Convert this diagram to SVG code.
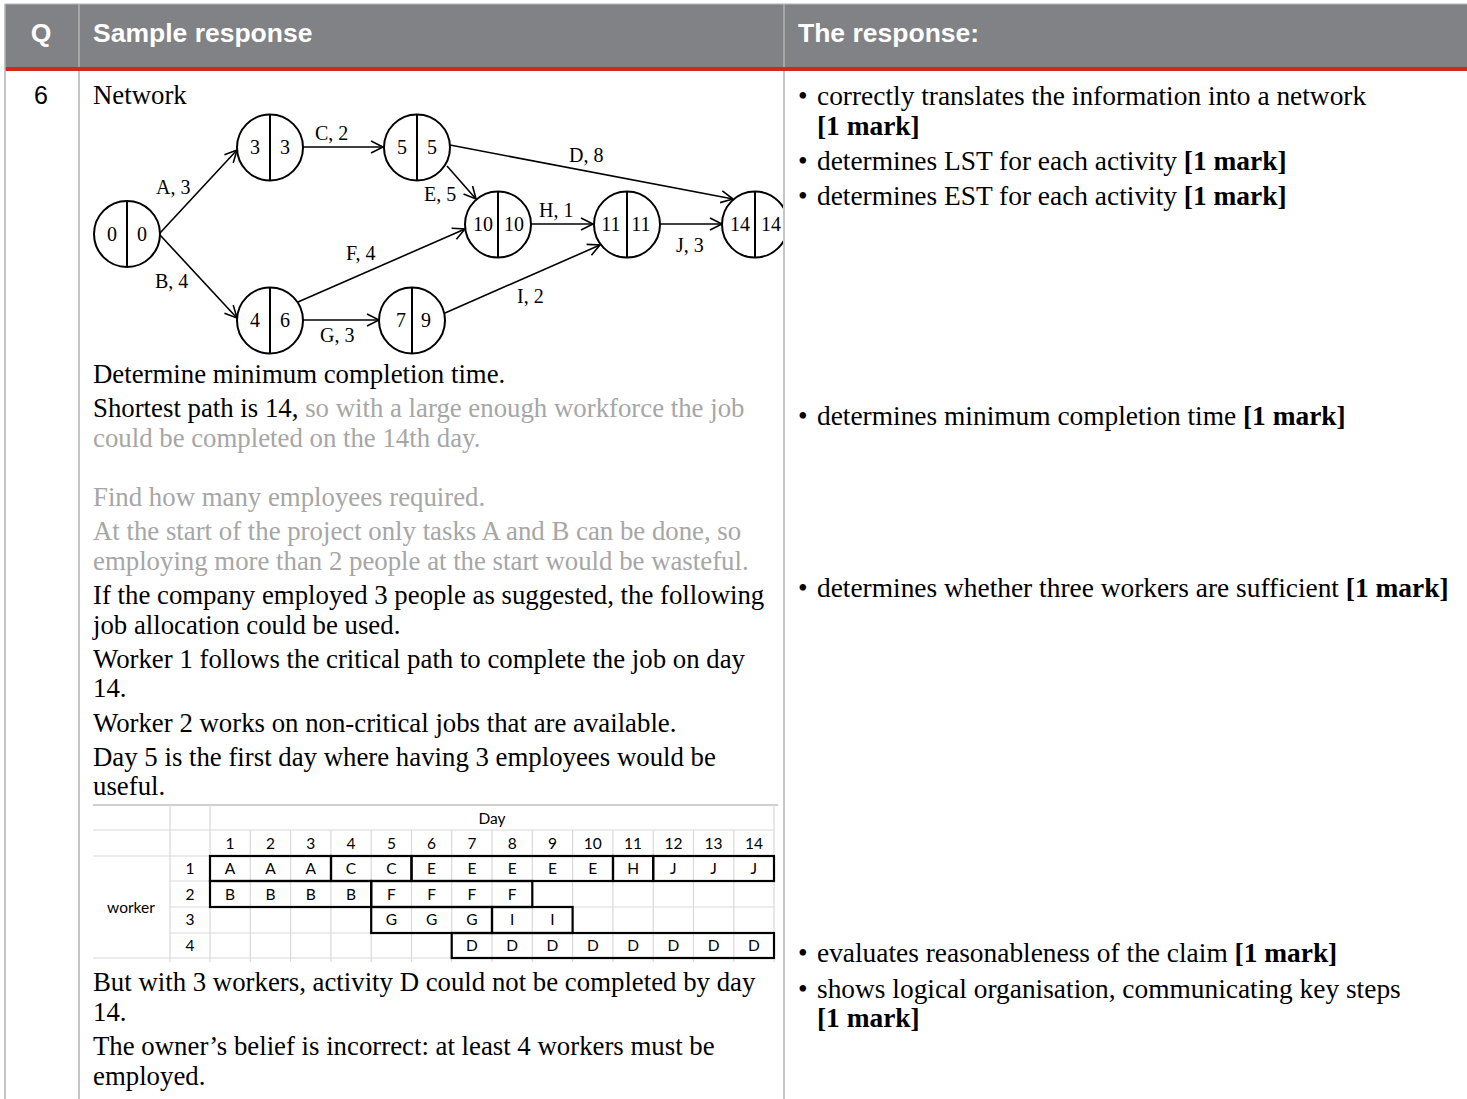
<svg xmlns="http://www.w3.org/2000/svg" width="1467" height="1099" viewBox="0 0 1467 1099">
<defs>
<marker id="arr" markerUnits="userSpaceOnUse" markerWidth="16" markerHeight="16" refX="13" refY="7" orient="auto">
<path d="M1,1 L13,7 L1,13" fill="none" stroke="#000" stroke-width="1.6"/>
</marker>
<clipPath id="netclip"><rect x="80" y="75" width="703" height="290"/></clipPath>
<style>
.hd{font-family:"Liberation Sans",Arial,sans-serif;font-weight:bold;font-size:26.5px;fill:#fff}
.body{font-family:"Liberation Serif","Times New Roman",serif;font-size:26.8px;fill:#000}
.rt{font-family:"Liberation Serif","Times New Roman",serif;font-size:27.4px;fill:#000}
.grey{fill:#a6a6a6}
.b{font-weight:bold}
.nl{font-family:"Liberation Serif","Times New Roman",serif;font-size:20px;fill:#000}
.nn{font-family:"Liberation Serif","Times New Roman",serif;font-size:20px;fill:#000;text-anchor:middle}
.node circle{fill:#fff;stroke:#000;stroke-width:2}
.node line{stroke:#000;stroke-width:2}
.edge{stroke:#000;stroke-width:1.6;fill:none;marker-end:url(#arr)}
.tb{font-family:Lato,"Liberation Sans",sans-serif;font-size:15.5px;fill:#000;text-anchor:middle}
.gl{stroke:#d9d9d9;stroke-width:1.2}
.bx{fill:none;stroke:#000;stroke-width:2.2}
.col{stroke:#b3b3b3;stroke-width:1.5}
</style>
</defs>
<rect x="0" y="0" width="1467" height="1099" fill="#fff"/>
<g id="header">
<rect x="5" y="4" width="1462" height="64" fill="#808285"/>
<line x1="5" y1="4" x2="1467" y2="4" stroke="#b3b3b3" stroke-width="1"/>
<rect x="5" y="67" width="1462" height="4" fill="#d2281e"/>
<text class="hd" x="41" y="42" text-anchor="middle">Q</text>
<text class="hd" x="93" y="42">Sample response</text>
<text class="hd" x="798" y="42">The response:</text>
</g>
<g id="grid">
<line class="col" x1="5" y1="4" x2="5" y2="1099"/>
<line class="col" x1="79" y1="4" x2="79" y2="67"/>
<line class="col" x1="79" y1="71" x2="79" y2="1099"/>
<line class="col" x1="784" y1="4" x2="784" y2="67"/>
<line class="col" x1="784" y1="71" x2="784" y2="1099"/>
</g>
<text x="41" y="104" text-anchor="middle" font-family="Liberation Sans, Arial, sans-serif" font-size="25px">6</text>

<g id="left-text">
<text class="body" x="93" y="104">Network</text>
<text class="body" x="93" y="383">Determine minimum completion time.</text>
<text class="body" x="93" y="417">Shortest path is 14, <tspan class="grey">so with a large enough workforce the job</tspan></text>
<text class="body grey" x="93" y="447">could be completed on the 14th day.</text>
<text class="body grey" x="93" y="506">Find how many employees required.</text>
<text class="body grey" x="93" y="540">At the start of the project only tasks A and B can be done, so</text>
<text class="body grey" x="93" y="570">employing more than 2 people at the start would be wasteful.</text>
<text class="body" x="93" y="604">If the company employed 3 people as suggested, the following</text>
<text class="body" x="93" y="634">job allocation could be used.</text>
<text class="body" x="93" y="668">Worker 1 follows the critical path to complete the job on day</text>
<text class="body" x="93" y="697">14.</text>
<text class="body" x="93" y="732">Worker 2 works on non-critical jobs that are available.</text>
<text class="body" x="93" y="766">Day 5 is the first day where having 3 employees would be</text>
<text class="body" x="93" y="795">useful.</text>
<text class="body" x="93" y="991">But with 3 workers, activity D could not be completed by day</text>
<text class="body" x="93" y="1021">14.</text>
<text class="body" x="93" y="1055">The owner’s belief is incorrect: at least 4 workers must be</text>
<text class="body" x="93" y="1085">employed.</text>
</g>

<g id="right-text">
<text class="rt" x="798" y="105">• <tspan x="817">correctly translates the information into a network</tspan></text>
<text class="rt b" x="817" y="135">[1 mark]</text>
<text class="rt" x="798" y="170">• <tspan x="817">determines LST for each activity </tspan><tspan class="b">[1 mark]</tspan></text>
<text class="rt" x="798" y="205">• <tspan x="817">determines EST for each activity </tspan><tspan class="b">[1 mark]</tspan></text>
<text class="rt" x="798" y="425">• <tspan x="817">determines minimum completion time </tspan><tspan class="b">[1 mark]</tspan></text>
<text class="rt" x="798" y="597">• <tspan x="817">determines whether three workers are sufficient </tspan><tspan class="b">[1 mark]</tspan></text>
<text class="rt" x="798" y="962">• <tspan x="817">evaluates reasonableness of the claim </tspan><tspan class="b">[1 mark]</tspan></text>
<text class="rt" x="798" y="998">• <tspan x="817">shows logical organisation, communicating key steps</tspan></text>
<text class="rt b" x="817" y="1027">[1 mark]</text>
</g>

<g id="network" clip-path="url(#netclip)">
<g id="connectors">
<line class="edge" x1="160" y1="233" x2="237" y2="150"/>
<line class="edge" x1="160" y1="235" x2="237" y2="318"/>
<line class="edge" x1="303" y1="147" x2="383" y2="147"/>
<line class="edge" x1="450" y1="145" x2="733" y2="199"/>
<line class="edge" x1="447" y1="166" x2="476" y2="199"/>
<line class="edge" x1="298" y1="302" x2="465" y2="229"/>
<line class="edge" x1="303" y1="320" x2="379" y2="320"/>
<line class="edge" x1="531" y1="224" x2="593" y2="224"/>
<line class="edge" x1="445" y1="313" x2="600" y2="245"/>
<line class="edge" x1="660" y1="224" x2="722" y2="224"/>
<text class="nl" x="156" y="194">A, 3</text>
<text class="nl" x="155" y="288">B, 4</text>
<text class="nl" x="315" y="140">C, 2</text>
<text class="nl" x="569" y="162">D, 8</text>
<text class="nl" x="424" y="201">E, 5</text>
<text class="nl" x="346" y="260">F, 4</text>
<text class="nl" x="320" y="342">G, 3</text>
<text class="nl" x="539" y="217">H, 1</text>
<text class="nl" x="517" y="303">I, 2</text>
<text class="nl" x="676" y="252">J, 3</text>
</g>
<g id="n0" class="node"><circle cx="127" cy="234" r="33"/><line x1="127" y1="201" x2="127" y2="267"/><text class="nn" x="112" y="241">0</text><text class="nn" x="142" y="241">0</text></g>
<g id="n1" class="node"><circle cx="270" cy="147.5" r="33"/><line x1="270" y1="114.5" x2="270" y2="180.5"/><text class="nn" x="255" y="154">3</text><text class="nn" x="285" y="154">3</text></g>
<g id="n2" class="node"><circle cx="417" cy="147.5" r="33"/><line x1="417" y1="114.5" x2="417" y2="180.5"/><text class="nn" x="402" y="154">5</text><text class="nn" x="432" y="154">5</text></g>
<g id="n3" class="node"><circle cx="270" cy="320.5" r="33"/><line x1="270" y1="287.5" x2="270" y2="353.5"/><text class="nn" x="255" y="327">4</text><text class="nn" x="285" y="327">6</text></g>
<g id="n4" class="node"><circle cx="412" cy="320.5" r="33"/><line x1="412" y1="287.5" x2="412" y2="353.5"/><text class="nn" x="401" y="327">7</text><text class="nn" x="426" y="327">9</text></g>
<g id="n5" class="node"><circle cx="498" cy="224.5" r="33"/><line x1="498" y1="191.5" x2="498" y2="257.5"/><text class="nn" x="483" y="231">10</text><text class="nn" x="514" y="231">10</text></g>
<g id="n6" class="node"><circle cx="627" cy="224.5" r="33"/><line x1="627" y1="191.5" x2="627" y2="257.5"/><text class="nn" x="611" y="231">11</text><text class="nn" x="641" y="231">11</text></g>
<g id="n7" class="node"><circle cx="755" cy="224.5" r="33"/><line x1="755" y1="191.5" x2="755" y2="257.5"/><text class="nn" x="740" y="231">14</text><text class="nn" x="771" y="231">14</text></g>
</g>

<g id="table">
<line x1="93" y1="805" x2="778" y2="805" stroke="#bfbfbf" stroke-width="1.5"/>
<g class="gl">
<line x1="93" y1="830" x2="774" y2="830"/>
<line x1="93" y1="856" x2="774" y2="856"/>
<line x1="170" y1="881" x2="774" y2="881"/>
<line x1="170" y1="907" x2="774" y2="907"/>
<line x1="170" y1="933" x2="774" y2="933"/>
<line x1="93" y1="958" x2="774" y2="958"/>
<line x1="170" y1="805" x2="170" y2="962"/>
<line x1="210" y1="805" x2="210" y2="962"/>
<line x1="250.3" y1="830" x2="250.3" y2="962"/>
<line x1="290.6" y1="830" x2="290.6" y2="962"/>
<line x1="330.9" y1="830" x2="330.9" y2="962"/>
<line x1="371.2" y1="830" x2="371.2" y2="962"/>
<line x1="411.5" y1="830" x2="411.5" y2="962"/>
<line x1="451.7" y1="830" x2="451.7" y2="962"/>
<line x1="492" y1="830" x2="492" y2="962"/>
<line x1="532.3" y1="830" x2="532.3" y2="962"/>
<line x1="572.6" y1="830" x2="572.6" y2="962"/>
<line x1="612.9" y1="830" x2="612.9" y2="962"/>
<line x1="653.2" y1="830" x2="653.2" y2="962"/>
<line x1="693.5" y1="830" x2="693.5" y2="962"/>
<line x1="733.8" y1="830" x2="733.8" y2="962"/>
<line x1="774" y1="805" x2="774" y2="962"/>
</g>
<text class="tb" x="492" y="824">Day</text>
<text class="tb" x="230.1" y="849">1</text><text class="tb" x="270.4" y="849">2</text><text class="tb" x="310.7" y="849">3</text><text class="tb" x="351" y="849">4</text><text class="tb" x="391.4" y="849">5</text><text class="tb" x="431.6" y="849">6</text><text class="tb" x="471.9" y="849">7</text><text class="tb" x="512.2" y="849">8</text><text class="tb" x="552.5" y="849">9</text><text class="tb" x="592.8" y="849">10</text><text class="tb" x="633.1" y="849">11</text><text class="tb" x="673.4" y="849">12</text><text class="tb" x="713.6" y="849">13</text><text class="tb" x="753.9" y="849">14</text>
<text class="tb" x="131" y="913">worker</text>
<text class="tb" x="190" y="874">1</text>
<text class="tb" x="190" y="900">2</text>
<text class="tb" x="190" y="925">3</text>
<text class="tb" x="190" y="951">4</text>
<text class="tb" x="230.1" y="874">A</text><text class="tb" x="270.4" y="874">A</text><text class="tb" x="310.7" y="874">A</text><text class="tb" x="351" y="874">C</text><text class="tb" x="391.4" y="874">C</text><text class="tb" x="431.6" y="874">E</text><text class="tb" x="471.9" y="874">E</text><text class="tb" x="512.2" y="874">E</text><text class="tb" x="552.5" y="874">E</text><text class="tb" x="592.8" y="874">E</text><text class="tb" x="633.1" y="874">H</text><text class="tb" x="673.4" y="874">J</text><text class="tb" x="713.6" y="874">J</text><text class="tb" x="753.9" y="874">J</text>
<text class="tb" x="230.1" y="900">B</text><text class="tb" x="270.4" y="900">B</text><text class="tb" x="310.7" y="900">B</text><text class="tb" x="351" y="900">B</text><text class="tb" x="391.4" y="900">F</text><text class="tb" x="431.6" y="900">F</text><text class="tb" x="471.9" y="900">F</text><text class="tb" x="512.2" y="900">F</text>
<text class="tb" x="391.4" y="925">G</text><text class="tb" x="431.6" y="925">G</text><text class="tb" x="471.9" y="925">G</text><text class="tb" x="512.2" y="925">I</text><text class="tb" x="552.5" y="925">I</text>
<text class="tb" x="471.9" y="951">D</text><text class="tb" x="512.2" y="951">D</text><text class="tb" x="552.5" y="951">D</text><text class="tb" x="592.8" y="951">D</text><text class="tb" x="633.1" y="951">D</text><text class="tb" x="673.4" y="951">D</text><text class="tb" x="713.6" y="951">D</text><text class="tb" x="753.9" y="951">D</text>
<rect class="bx" x="210" y="856" width="121" height="25"/>
<rect class="bx" x="331" y="856" width="80.5" height="25"/>
<rect class="bx" x="411.5" y="856" width="201.5" height="25"/>
<rect class="bx" x="613" y="856" width="40.2" height="25"/>
<rect class="bx" x="653.2" y="856" width="120.8" height="25"/>
<rect class="bx" x="210" y="881" width="161.2" height="26"/>
<rect class="bx" x="371.2" y="881" width="161.1" height="26"/>
<rect class="bx" x="371.2" y="907" width="120.8" height="26"/>
<rect class="bx" x="492" y="907" width="80.6" height="26"/>
<rect class="bx" x="451.7" y="933" width="322.3" height="25"/>
</g>
</svg>
